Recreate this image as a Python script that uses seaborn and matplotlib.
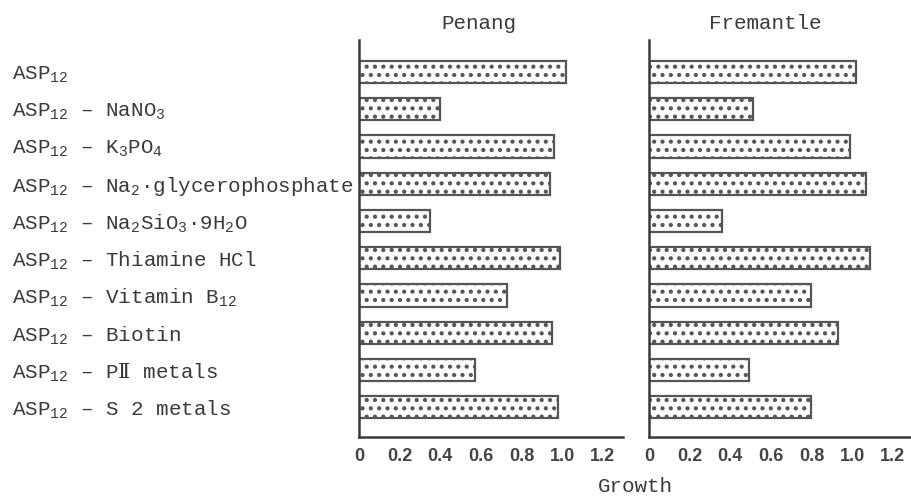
import numpy as np
import pandas as pd
import matplotlib
matplotlib.use("Agg")
import matplotlib.pyplot as plt
import seaborn as sns

media = [
    'ASP$_{12}$',
    'ASP$_{12}$ – NaNO$_{3}$',
    'ASP$_{12}$ – K$_{3}$PO$_{4}$',
    'ASP$_{12}$ – Na$_{2}$·glycerophosphate',
    'ASP$_{12}$ – Na$_{2}$SiO$_{3}$·9H$_{2}$O',
    'ASP$_{12}$ – Thiamine HCl',
    'ASP$_{12}$ – Vitamin B$_{12}$',
    'ASP$_{12}$ – Biotin',
    'ASP$_{12}$ – P$\\mathsf{Ⅱ}$ metals',
    'ASP$_{12}$ – S 2 metals',
]
penang = [1.02, 0.40, 0.96, 0.94, 0.35, 0.99, 0.73, 0.95, 0.57, 0.98]
fremantle = [1.02, 0.51, 0.99, 1.07, 0.36, 1.09, 0.80, 0.93, 0.49, 0.80]
xticks = [0, 0.2, 0.4, 0.6, 0.8, 1.0, 1.2]
xticklabels = ['0', '0.2', '0.4', '0.6', '0.8', '1.0', '1.2']

sns.set_theme(style="white")
plt.rcParams['font.family'] = ['Liberation Mono', 'DejaVu Sans Mono', 'DejaVu Sans']
plt.rcParams['mathtext.fontset'] = 'custom'
plt.rcParams['mathtext.rm'] = 'Liberation Mono'
plt.rcParams['mathtext.it'] = 'Liberation Mono'
plt.rcParams['mathtext.bf'] = 'Liberation Mono'
plt.rcParams['mathtext.sf'] = 'DejaVu Serif'
plt.rcParams['hatch.linewidth'] = 1.8

ink = '#3a3a3a'
edge = '#555555'

df = pd.DataFrame({'medium': media, 'Penang': penang, 'Fremantle': fremantle})

fig = plt.figure(figsize=(9.11, 4.97), dpi=100)
ax1 = fig.add_axes([359 / 911, 60 / 497, 264 / 911, 397 / 497])
ax2 = fig.add_axes([649 / 911, 60 / 497, 262 / 911, 397 / 497])

for ax, site, xmax, tx in [(ax1, 'Penang', 1.30, 0.453), (ax2, 'Fremantle', 1.29, 0.443)]:
    sns.barplot(data=df, x=site, y='medium', orient='h', color='white',
                edgecolor=edge, linewidth=1.6, hatch='..', width=0.6, ax=ax)
    for bar in ax.patches:
        bar.set_hatch('..')
        bar.set_edgecolor(edge)
    ax.set_xlim(0, xmax)
    ax.set_ylim(9.8, -0.86)
    ax.set_xticks(xticks)
    ax.set_xticklabels(xticklabels, fontfamily='Liberation Sans', fontweight='bold',
                       fontsize=13, color='#444444')
    ax.tick_params(axis='x', direction='in', length=5, width=1.5, color=ink, pad=8)
    ax.tick_params(axis='y', length=0)
    for s in ['top', 'right']:
        ax.spines[s].set_visible(False)
    for s in ['left', 'bottom']:
        ax.spines[s].set_color(ink)
        ax.spines[s].set_linewidth(1.8)
    ax.set_xlabel('')
    ax.set_ylabel('')
    ax.set_title(site, x=tx, fontsize=15, color=ink, pad=8)

ax1.set_yticks(range(len(media)))
ax1.set_yticklabels(media, fontsize=15, color=ink, ha='left')
ax1.tick_params(axis='y', pad=250)
ax2.set_yticks([])

fig.text(635 / 911, 1 - 487 / 497, 'Growth', ha='center', va='center', fontsize=15, color=ink)

fig.savefig('out.png', dpi=100, facecolor='white')
